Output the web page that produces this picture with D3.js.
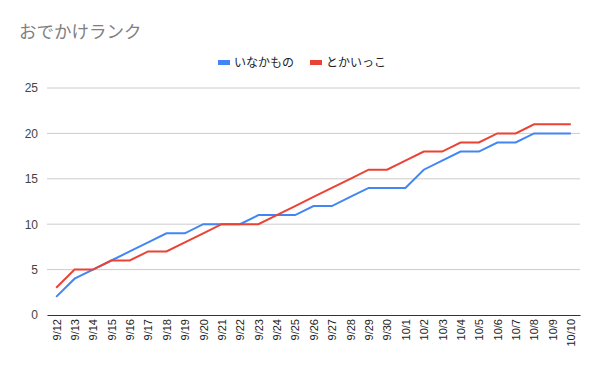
<!DOCTYPE html>
<html>
<head>
<meta charset="utf-8">
<script src="https://cdn.jsdelivr.net/npm/d3@7"></script>
<style>
  body { margin: 0; background: #fff; }
  text { font-family: "Liberation Sans", Arial, sans-serif; }
</style>
</head>
<body>
<div id="chart"></div>
<script>
const dates = ["9/12","9/13","9/14","9/15","9/16","9/17","9/18","9/19","9/20","9/21",
  "9/22","9/23","9/24","9/25","9/26","9/27","9/28","9/29","9/30","10/1",
  "10/2","10/3","10/4","10/5","10/6","10/7","10/8","10/9","10/10"];
const inakamono = [2,4,5,6,7,8,9,9,10,10,10,11,11,11,12,12,13,14,14,14,16,17,18,18,19,19,20,20,20];
const tokaikko  = [3,5,5,6,6,7,7,8,9,10,10,10,11,12,13,14,15,16,16,17,18,18,19,19,20,20,21,21,21];
const seriesNames = ["いなかもの", "とかいっこ"];
const colors = ["#4285f4", "#ea4335"];
const yTicks = [0, 5, 10, 15, 20, 25];

const W = 600, H = 371;
const margin = { top: 88, right: 20, bottom: 56, left: 47 };
const width = W - margin.left - margin.right;
const height = H - margin.top - margin.bottom;

const svg = d3.select("#chart").append("svg")
    .attr("width", W)
    .attr("height", H);

svg.append("text")
    .attr("x", 19).attr("y", 38)
    .attr("fill", "#808080")
    .attr("font-size", 17.5)
    .style("font-family", "'Noto Sans CJK JP', sans-serif")
    .text("おでかけランク");

const x = d3.scalePoint()
    .domain(dates)
    .range([0, width])
    .padding(0.5);

const y = d3.scaleLinear()
    .domain([0, 25])
    .range([height, 0]);

const g = svg.append("g")
    .attr("transform", `translate(${margin.left}, ${margin.top})`);

// gridlines
g.append("g")
    .selectAll("line")
    .data(yTicks.filter(d => d > 0))
    .join("line")
    .attr("x1", 0).attr("x2", width)
    .attr("y1", d => y(d)).attr("y2", d => y(d))
    .attr("stroke", "#cccccc");

const yAxis = d3.axisLeft(y).tickValues(yTicks).tickSize(0).tickPadding(9);
g.append("g")
    .call(yAxis)
    .call(s => s.select(".domain").remove())
    .selectAll("text")
    .attr("fill", "#444").attr("font-size", 12);

const xAxis = d3.axisBottom(x).tickSize(0).tickPadding(0);
g.append("g")
    .attr("transform", `translate(0, ${height})`)
    .call(xAxis)
    .call(s => s.select(".domain").attr("stroke", "#333"))
    .selectAll("text")
    .attr("fill", "#222").attr("font-size", 11)
    .attr("text-anchor", "end")
    .attr("transform", "rotate(-90)")
    .attr("x", -4).attr("y", 0).attr("dy", "0.35em");

const line = d3.line()
    .x((d, i) => x(dates[i]))
    .y(d => y(d));

[inakamono, tokaikko].forEach((vals, k) => {
  g.append("path")
      .datum(vals)
      .attr("fill", "none")
      .attr("stroke", colors[k])
      .attr("stroke-width", 2)
      .attr("d", line);
});

// legend
const legend = svg.append("g");
const lx = [218, 310];
seriesNames.forEach((n, k) => {
  legend.append("rect")
      .attr("x", lx[k]).attr("y", 60)
      .attr("width", 12).attr("height", 5)
      .attr("fill", colors[k]);
  legend.append("text")
      .attr("x", lx[k] + 16).attr("y", 67)
      .attr("fill", "#222").attr("font-size", 12)
      .style("font-family", "'Noto Sans CJK JP', sans-serif")
      .text(n);
});
</script>
</body>
</html>
